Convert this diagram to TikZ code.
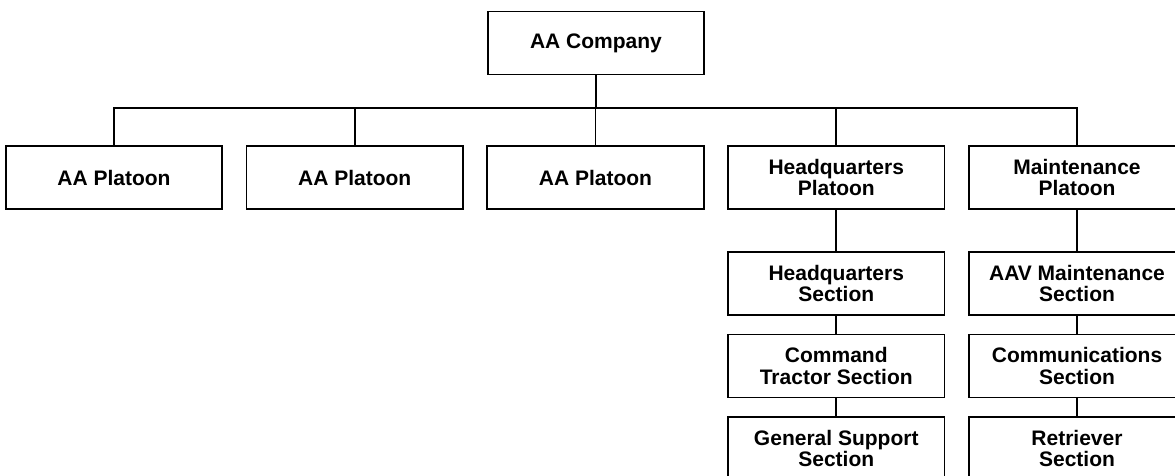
\documentclass[tikz,border=0pt]{standalone}
\usepackage{fontspec}
\setmainfont{Liberation Sans}
\usetikzlibrary{positioning}
\tikzset{unit/.style = {draw, line width = 1.8pt, minimum width = 216.5pt, minimum height = 63pt,
    inner sep = 0pt, outer sep = 0pt, align = center, font = \bfseries\fontsize{21}{21.5}\selectfont},
  node distance = 19.5pt and 24.25pt}

\begin{document}
\begin{tikzpicture}[line width = 1.8pt]
  \useasboundingbox (0,0) rectangle (1175pt,-476pt);
  \clip (0,0) rectangle (1175pt,-476pt);
  % nodes
  \node (co) [unit] at (596pt,-43pt) {AA Company};
  \node (p1) [unit] at (114pt,-177.5pt) {AA Platoon};
  \node (p2) [unit, right = of p1] {AA Platoon};
  \node (p3) [unit, right = of p2] {AA Platoon};
  \node (hq) [unit, right = of p3] {Headquarters\\Platoon};
  \node (mp) [unit, right = of hq] {Maintenance\\Platoon};
  \node (hqs) [unit, below = 43pt of hq] {Headquarters\\Section};
  \node (cts) [unit, below = of hqs] {Command\\Tractor Section};
  \node (gss) [unit, below = of cts] {General Support\\Section};
  \node (ams) [unit, below = 43pt of mp] {AAV Maintenance\\Section};
  \node (com) [unit, below = of ams] {Communications\\Section};
  \node (ret) [unit, below = of com] {Retriever\\Section};
  \coordinate (bus) at (596pt,-108pt);
  % edges
  \draw (co) -- (bus);
  \draw (p1.north) |- (bus) -| (mp.north);
  \foreach \n in {p2, p3, hq}
    \draw (\n.north) -- (\n.north |- bus);
  \draw (hq) -- (hqs);
  \draw (hqs) -- (cts);
  \draw (cts) -- (gss);
  \draw (mp) -- (ams);
  \draw (ams) -- (com);
  \draw (com) -- (ret);
\end{tikzpicture}
\end{document}
